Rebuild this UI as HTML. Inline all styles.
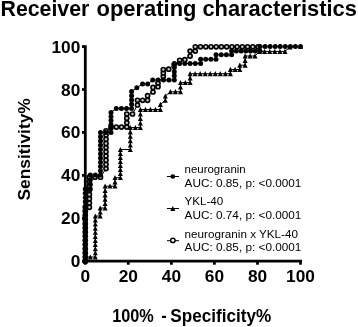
<!DOCTYPE html>
<html><head><meta charset="utf-8"><style>
html,body{margin:0;padding:0;background:#fff;}
svg{display:block;will-change:transform;}
text{font-family:"Liberation Sans",sans-serif;}
</style></head><body>
<svg width="358" height="327" viewBox="0 0 358 327">
<rect width="358" height="327" fill="#fff"/>
<g font-size="21.5" font-weight="bold"><text x="0.5" y="16.2" textLength="88.8" lengthAdjust="spacingAndGlyphs">Receiver</text>
<text x="96.5" y="16.2" textLength="100.0" lengthAdjust="spacingAndGlyphs">operating</text>
<text x="202.4" y="16.2" textLength="154.5" lengthAdjust="spacingAndGlyphs">characteristics</text></g>
<text transform="translate(30.0,200.5) rotate(-90)" font-size="17" font-weight="bold" textLength="102.3" lengthAdjust="spacingAndGlyphs">Sensitivity%</text>
<g font-size="17.5" font-weight="bold"><text x="112.2" y="321.8" textLength="41.6" lengthAdjust="spacingAndGlyphs">100%</text>
<text x="161.2" y="321.8" textLength="5.5" lengthAdjust="spacingAndGlyphs">-</text>
<text x="170.3" y="321.8" textLength="101" lengthAdjust="spacingAndGlyphs">Specificity%</text></g>
<g font-size="17.3" font-weight="bold"><text x="80.3" y="267.2" text-anchor="end">0</text><text x="80.3" y="224.3" text-anchor="end">20</text><text x="80.3" y="181.4" text-anchor="end">40</text><text x="80.3" y="138.4" text-anchor="end">60</text><text x="80.3" y="95.5" text-anchor="end">80</text><text x="80.3" y="52.6" text-anchor="end">100</text><text x="85.3" y="282" text-anchor="middle">0</text><text x="128.3" y="282" text-anchor="middle">20</text><text x="171.4" y="282" text-anchor="middle">40</text><text x="214.4" y="282" text-anchor="middle">60</text><text x="257.5" y="282" text-anchor="middle">80</text><text x="300.5" y="282" text-anchor="middle">100</text></g>

<path d="M85.3,45.2V262.4M83.9,261.2H302" stroke="#000" stroke-width="2.8" fill="none"/>

<path d="M82,261.2H85" stroke="#000" stroke-width="2.8"/><path d="M85.3,261H85.3V264.7" stroke="#000" stroke-width="2.8"/><path d="M82,218.3H85" stroke="#000" stroke-width="2.8"/><path d="M128.3,261H128.3V264.7" stroke="#000" stroke-width="2.8"/><path d="M82,175.4H85" stroke="#000" stroke-width="2.8"/><path d="M171.4,261H171.4V264.7" stroke="#000" stroke-width="2.8"/><path d="M82,132.4H85" stroke="#000" stroke-width="2.8"/><path d="M214.4,261H214.4V264.7" stroke="#000" stroke-width="2.8"/><path d="M82,89.5H85" stroke="#000" stroke-width="2.8"/><path d="M257.5,261H257.5V264.7" stroke="#000" stroke-width="2.8"/><path d="M82,46.6H85" stroke="#000" stroke-width="2.8"/><path d="M300.5,261H300.5V264.7" stroke="#000" stroke-width="2.8"/>
<polyline points="85.3,261.2 85.3,189.0 90.3,189.0 90.3,175.0 100.5,175.0 100.5,132.6 111.0,132.6 111.0,112.4 116.3,108.5 131.6,108.5 131.6,91.5 136.8,87.7 142.6,84.0 147.7,84.0 152.7,80.0 174.3,80.0 174.3,63.4 200.6,63.4 200.6,59.3 216.0,59.3 216.0,54.8 231.6,54.8 231.6,51.0 260.0,51.0 260.0,46.6 300.5,46.6" fill="none" stroke="#000" stroke-width="1"/><polyline points="85.3,261.2 85.3,257.0 95.3,257.0 95.3,216.0 100.2,216.0 100.2,208.0 105.1,208.0 105.1,186.2 115.0,186.2 115.0,177.7 120.4,177.7 120.4,149.5 130.3,149.5 130.3,127.6 140.4,127.6 140.4,109.5 160.4,109.5 160.4,104.5 165.3,100.3 165.3,96.1 170.4,91.8 180.5,91.8 180.5,82.6 190.1,82.6 190.1,73.7 230.4,73.7 230.4,69.5 239.8,69.5 239.8,65.2 245.1,65.2 245.1,56.0 255.0,56.0 259.5,51.4 285.0,51.4 290.0,47.0 300.5,46.6" fill="none" stroke="#000" stroke-width="1"/><polyline points="85.3,261.2 85.3,207.3 89.4,207.3 89.4,177.2 100.5,177.2 106.0,168.6 106.0,130.8 111.0,127.0 126.8,127.0 126.8,114.0 132.5,114.0 137.5,105.0 137.5,100.3 147.6,100.3 147.6,95.7 153.0,92.0 153.0,87.4 158.0,86.7 158.0,83.0 163.3,76.3 163.3,69.6 168.7,69.2 174.2,64.5 179.7,60.3 184.8,59.7 190.1,56.0 190.1,51.1 195.3,51.1 195.3,46.8 258.0,46.8" fill="none" stroke="#000" stroke-width="1"/>
<circle cx="85.3" cy="261.2" r="2.05" fill="#c8c8c8" stroke="#000" stroke-width="1.65"/><circle cx="85.3" cy="257.1" r="2.05" fill="#c8c8c8" stroke="#000" stroke-width="1.65"/><circle cx="85.3" cy="252.9" r="2.05" fill="#c8c8c8" stroke="#000" stroke-width="1.65"/><circle cx="85.3" cy="248.8" r="2.05" fill="#c8c8c8" stroke="#000" stroke-width="1.65"/><circle cx="85.3" cy="244.6" r="2.05" fill="#c8c8c8" stroke="#000" stroke-width="1.65"/><circle cx="85.3" cy="240.5" r="2.05" fill="#c8c8c8" stroke="#000" stroke-width="1.65"/><circle cx="85.3" cy="236.3" r="2.05" fill="#c8c8c8" stroke="#000" stroke-width="1.65"/><circle cx="85.3" cy="232.2" r="2.05" fill="#c8c8c8" stroke="#000" stroke-width="1.65"/><circle cx="85.3" cy="228.0" r="2.05" fill="#c8c8c8" stroke="#000" stroke-width="1.65"/><circle cx="85.3" cy="223.9" r="2.05" fill="#c8c8c8" stroke="#000" stroke-width="1.65"/><circle cx="85.3" cy="219.7" r="2.05" fill="#c8c8c8" stroke="#000" stroke-width="1.65"/><circle cx="85.3" cy="215.6" r="2.05" fill="#c8c8c8" stroke="#000" stroke-width="1.65"/><circle cx="85.3" cy="211.4" r="2.05" fill="#c8c8c8" stroke="#000" stroke-width="1.65"/><circle cx="85.3" cy="207.3" r="2.05" fill="#c8c8c8" stroke="#000" stroke-width="1.65"/><circle cx="89.4" cy="207.3" r="2.05" fill="#c8c8c8" stroke="#000" stroke-width="1.65"/><circle cx="89.4" cy="203.0" r="2.05" fill="#c8c8c8" stroke="#000" stroke-width="1.65"/><circle cx="89.4" cy="198.7" r="2.05" fill="#c8c8c8" stroke="#000" stroke-width="1.65"/><circle cx="89.4" cy="194.4" r="2.05" fill="#c8c8c8" stroke="#000" stroke-width="1.65"/><circle cx="89.4" cy="190.1" r="2.05" fill="#c8c8c8" stroke="#000" stroke-width="1.65"/><circle cx="89.4" cy="185.8" r="2.05" fill="#c8c8c8" stroke="#000" stroke-width="1.65"/><circle cx="89.4" cy="181.5" r="2.05" fill="#c8c8c8" stroke="#000" stroke-width="1.65"/><circle cx="89.4" cy="177.2" r="2.05" fill="#c8c8c8" stroke="#000" stroke-width="1.65"/><circle cx="95.0" cy="177.2" r="2.05" fill="#c8c8c8" stroke="#000" stroke-width="1.65"/><circle cx="100.5" cy="177.2" r="2.05" fill="#c8c8c8" stroke="#000" stroke-width="1.65"/><circle cx="106.0" cy="168.6" r="2.05" fill="#c8c8c8" stroke="#000" stroke-width="1.65"/><circle cx="106.0" cy="164.4" r="2.05" fill="#c8c8c8" stroke="#000" stroke-width="1.65"/><circle cx="106.0" cy="160.2" r="2.05" fill="#c8c8c8" stroke="#000" stroke-width="1.65"/><circle cx="106.0" cy="156.0" r="2.05" fill="#c8c8c8" stroke="#000" stroke-width="1.65"/><circle cx="106.0" cy="151.8" r="2.05" fill="#c8c8c8" stroke="#000" stroke-width="1.65"/><circle cx="106.0" cy="147.6" r="2.05" fill="#c8c8c8" stroke="#000" stroke-width="1.65"/><circle cx="106.0" cy="143.4" r="2.05" fill="#c8c8c8" stroke="#000" stroke-width="1.65"/><circle cx="106.0" cy="139.2" r="2.05" fill="#c8c8c8" stroke="#000" stroke-width="1.65"/><circle cx="106.0" cy="135.0" r="2.05" fill="#c8c8c8" stroke="#000" stroke-width="1.65"/><circle cx="106.0" cy="130.8" r="2.05" fill="#c8c8c8" stroke="#000" stroke-width="1.65"/><circle cx="111.0" cy="127.0" r="2.05" fill="#c8c8c8" stroke="#000" stroke-width="1.65"/><circle cx="116.3" cy="127.0" r="2.05" fill="#c8c8c8" stroke="#000" stroke-width="1.65"/><circle cx="121.5" cy="127.0" r="2.05" fill="#c8c8c8" stroke="#000" stroke-width="1.65"/><circle cx="126.8" cy="127.0" r="2.05" fill="#c8c8c8" stroke="#000" stroke-width="1.65"/><circle cx="126.8" cy="122.7" r="2.05" fill="#c8c8c8" stroke="#000" stroke-width="1.65"/><circle cx="126.8" cy="118.3" r="2.05" fill="#c8c8c8" stroke="#000" stroke-width="1.65"/><circle cx="126.8" cy="114.0" r="2.05" fill="#c8c8c8" stroke="#000" stroke-width="1.65"/><circle cx="132.5" cy="114.0" r="2.05" fill="#c8c8c8" stroke="#000" stroke-width="1.65"/><circle cx="137.5" cy="105.0" r="2.05" fill="#c8c8c8" stroke="#000" stroke-width="1.65"/><circle cx="137.5" cy="100.3" r="2.05" fill="#c8c8c8" stroke="#000" stroke-width="1.65"/><circle cx="142.6" cy="100.3" r="2.05" fill="#c8c8c8" stroke="#000" stroke-width="1.65"/><circle cx="147.6" cy="100.3" r="2.05" fill="#c8c8c8" stroke="#000" stroke-width="1.65"/><circle cx="147.6" cy="95.7" r="2.05" fill="#c8c8c8" stroke="#000" stroke-width="1.65"/><circle cx="153.0" cy="92.0" r="2.05" fill="#c8c8c8" stroke="#000" stroke-width="1.65"/><circle cx="153.0" cy="87.4" r="2.05" fill="#c8c8c8" stroke="#000" stroke-width="1.65"/><circle cx="158.0" cy="86.7" r="2.05" fill="#c8c8c8" stroke="#000" stroke-width="1.65"/><circle cx="158.0" cy="83.0" r="2.05" fill="#c8c8c8" stroke="#000" stroke-width="1.65"/><circle cx="163.3" cy="76.3" r="2.05" fill="#c8c8c8" stroke="#000" stroke-width="1.65"/><circle cx="163.3" cy="72.9" r="2.05" fill="#c8c8c8" stroke="#000" stroke-width="1.65"/><circle cx="163.3" cy="69.6" r="2.05" fill="#c8c8c8" stroke="#000" stroke-width="1.65"/><circle cx="168.7" cy="69.2" r="2.05" fill="#c8c8c8" stroke="#000" stroke-width="1.65"/><circle cx="174.2" cy="64.5" r="2.05" fill="#c8c8c8" stroke="#000" stroke-width="1.65"/><circle cx="179.7" cy="60.3" r="2.05" fill="#c8c8c8" stroke="#000" stroke-width="1.65"/><circle cx="184.8" cy="59.7" r="2.05" fill="#c8c8c8" stroke="#000" stroke-width="1.65"/><circle cx="190.1" cy="56.0" r="2.05" fill="#c8c8c8" stroke="#000" stroke-width="1.65"/><circle cx="190.1" cy="51.1" r="2.05" fill="#c8c8c8" stroke="#000" stroke-width="1.65"/><circle cx="195.3" cy="51.1" r="2.05" fill="#c8c8c8" stroke="#000" stroke-width="1.65"/><circle cx="195.3" cy="46.8" r="2.05" fill="#c8c8c8" stroke="#000" stroke-width="1.65"/><circle cx="200.5" cy="46.8" r="2.05" fill="#c8c8c8" stroke="#000" stroke-width="1.65"/><circle cx="205.8" cy="46.8" r="2.05" fill="#c8c8c8" stroke="#000" stroke-width="1.65"/><circle cx="211.0" cy="46.8" r="2.05" fill="#c8c8c8" stroke="#000" stroke-width="1.65"/><circle cx="216.2" cy="46.8" r="2.05" fill="#c8c8c8" stroke="#000" stroke-width="1.65"/><circle cx="221.4" cy="46.8" r="2.05" fill="#c8c8c8" stroke="#000" stroke-width="1.65"/><circle cx="226.7" cy="46.8" r="2.05" fill="#c8c8c8" stroke="#000" stroke-width="1.65"/><circle cx="231.9" cy="46.8" r="2.05" fill="#c8c8c8" stroke="#000" stroke-width="1.65"/><circle cx="237.1" cy="46.8" r="2.05" fill="#c8c8c8" stroke="#000" stroke-width="1.65"/><circle cx="242.3" cy="46.8" r="2.05" fill="#c8c8c8" stroke="#000" stroke-width="1.65"/><circle cx="247.6" cy="46.8" r="2.05" fill="#c8c8c8" stroke="#000" stroke-width="1.65"/><circle cx="252.8" cy="46.8" r="2.05" fill="#c8c8c8" stroke="#000" stroke-width="1.65"/><circle cx="258.0" cy="46.8" r="2.05" fill="#c8c8c8" stroke="#000" stroke-width="1.65"/><path d="M85.3,258.6L87.8,263.6L82.8,263.6Z"/><path d="M85.3,254.4L87.8,259.4L82.8,259.4Z"/><path d="M90.3,254.4L92.8,259.4L87.8,259.4Z"/><path d="M95.3,254.4L97.8,259.4L92.8,259.4Z"/><path d="M95.3,250.3L97.8,255.3L92.8,255.3Z"/><path d="M95.3,246.2L97.8,251.2L92.8,251.2Z"/><path d="M95.3,242.1L97.8,247.1L92.8,247.1Z"/><path d="M95.3,238.0L97.8,243.0L92.8,243.0Z"/><path d="M95.3,233.9L97.8,238.9L92.8,238.9Z"/><path d="M95.3,229.8L97.8,234.8L92.8,234.8Z"/><path d="M95.3,225.7L97.8,230.8L92.8,230.8Z"/><path d="M95.3,221.6L97.8,226.6L92.8,226.6Z"/><path d="M95.3,217.5L97.8,222.5L92.8,222.5Z"/><path d="M95.3,213.4L97.8,218.4L92.8,218.4Z"/><path d="M100.2,213.4L102.7,218.4L97.7,218.4Z"/><path d="M100.2,209.4L102.7,214.4L97.7,214.4Z"/><path d="M100.2,205.4L102.7,210.4L97.7,210.4Z"/><path d="M105.1,205.4L107.6,210.4L102.6,210.4Z"/><path d="M105.1,201.0L107.6,206.1L102.6,206.1Z"/><path d="M105.1,196.6L107.6,201.7L102.6,201.7Z"/><path d="M105.1,192.3L107.6,197.4L102.6,197.4Z"/><path d="M105.1,187.9L107.6,193.0L102.6,193.0Z"/><path d="M105.1,183.6L107.6,188.6L102.6,188.6Z"/><path d="M110.0,183.6L112.5,188.6L107.5,188.6Z"/><path d="M115.0,183.6L117.5,188.6L112.5,188.6Z"/><path d="M115.0,179.3L117.5,184.4L112.5,184.4Z"/><path d="M115.0,175.1L117.5,180.1L112.5,180.1Z"/><path d="M120.4,175.1L122.9,180.1L117.9,180.1Z"/><path d="M120.4,171.0L122.9,176.1L117.9,176.1Z"/><path d="M120.4,167.0L122.9,172.1L117.9,172.1Z"/><path d="M120.4,163.0L122.9,168.1L117.9,168.1Z"/><path d="M120.4,158.9L122.9,164.0L117.9,164.0Z"/><path d="M120.4,154.9L122.9,160.0L117.9,160.0Z"/><path d="M120.4,150.9L122.9,156.0L117.9,156.0Z"/><path d="M120.4,146.9L122.9,151.9L117.9,151.9Z"/><path d="M130.3,146.9L132.8,152.0L127.8,152.0Z"/><path d="M130.3,142.5L132.8,147.6L127.8,147.6Z"/><path d="M130.3,138.1L132.8,143.2L127.8,143.2Z"/><path d="M130.3,133.7L132.8,138.8L127.8,138.8Z"/><path d="M130.3,129.3L132.8,134.4L127.8,134.4Z"/><path d="M130.3,124.9L132.8,130.0L127.8,130.0Z"/><path d="M135.4,124.9L137.9,130.0L132.9,130.0Z"/><path d="M140.4,124.9L142.9,130.0L137.9,130.0Z"/><path d="M140.4,120.4L142.9,125.5L137.9,125.5Z"/><path d="M140.4,115.9L142.9,121.0L137.9,121.0Z"/><path d="M140.4,111.4L142.9,116.5L137.9,116.5Z"/><path d="M140.4,106.8L142.9,112.0L137.9,112.0Z"/><path d="M145.4,106.8L147.9,112.0L142.9,112.0Z"/><path d="M150.4,106.8L152.9,112.0L147.9,112.0Z"/><path d="M155.4,106.8L157.9,112.0L152.9,112.0Z"/><path d="M160.4,106.8L162.9,112.0L157.9,112.0Z"/><path d="M160.4,101.8L162.9,107.0L157.9,107.0Z"/><path d="M165.3,97.6L167.8,102.8L162.8,102.8Z"/><path d="M165.3,93.4L167.8,98.5L162.8,98.5Z"/><path d="M170.4,89.1L172.9,94.2L167.9,94.2Z"/><path d="M175.4,89.1L177.9,94.2L172.9,94.2Z"/><path d="M180.5,89.1L183.0,94.2L178.0,94.2Z"/><path d="M180.5,84.5L183.0,89.6L178.0,89.6Z"/><path d="M180.5,79.9L183.0,85.0L178.0,85.0Z"/><path d="M185.3,79.9L187.8,85.0L182.8,85.0Z"/><path d="M190.1,79.9L192.6,85.0L187.6,85.0Z"/><path d="M190.1,75.5L192.6,80.6L187.6,80.6Z"/><path d="M190.1,71.0L192.6,76.2L187.6,76.2Z"/><path d="M195.1,71.0L197.6,76.2L192.6,76.2Z"/><path d="M200.2,71.0L202.7,76.2L197.7,76.2Z"/><path d="M205.2,71.0L207.7,76.2L202.7,76.2Z"/><path d="M210.2,71.0L212.8,76.2L207.8,76.2Z"/><path d="M215.3,71.0L217.8,76.2L212.8,76.2Z"/><path d="M220.3,71.0L222.8,76.2L217.8,76.2Z"/><path d="M225.4,71.0L227.9,76.2L222.9,76.2Z"/><path d="M230.4,71.0L232.9,76.2L227.9,76.2Z"/><path d="M230.4,66.8L232.9,72.0L227.9,72.0Z"/><path d="M235.1,66.8L237.6,72.0L232.6,72.0Z"/><path d="M239.8,66.8L242.3,72.0L237.3,72.0Z"/><path d="M239.8,62.5L242.3,67.7L237.3,67.7Z"/><path d="M245.1,62.5L247.6,67.7L242.6,67.7Z"/><path d="M245.1,57.9L247.6,63.1L242.6,63.1Z"/><path d="M245.1,53.3L247.6,58.5L242.6,58.5Z"/><path d="M250.1,53.3L252.6,58.5L247.6,58.5Z"/><path d="M255.0,53.3L257.5,58.5L252.5,58.5Z"/><path d="M259.5,48.7L262.0,53.9L257.0,53.9Z"/><path d="M264.6,48.7L267.1,53.9L262.1,53.9Z"/><path d="M269.7,48.7L272.2,53.9L267.2,53.9Z"/><path d="M274.8,48.7L277.3,53.9L272.3,53.9Z"/><path d="M279.9,48.7L282.4,53.9L277.4,53.9Z"/><path d="M285.0,48.7L287.5,53.9L282.5,53.9Z"/><path d="M290.0,44.3L292.5,49.5L287.5,49.5Z"/><path d="M300.5,43.9L303.0,49.1L298.0,49.1Z"/><circle cx="85.3" cy="261.2" r="2.5"/><circle cx="85.3" cy="257.0" r="2.5"/><circle cx="85.3" cy="252.7" r="2.5"/><circle cx="85.3" cy="248.5" r="2.5"/><circle cx="85.3" cy="244.2" r="2.5"/><circle cx="85.3" cy="240.0" r="2.5"/><circle cx="85.3" cy="235.7" r="2.5"/><circle cx="85.3" cy="231.5" r="2.5"/><circle cx="85.3" cy="227.2" r="2.5"/><circle cx="85.3" cy="223.0" r="2.5"/><circle cx="85.3" cy="218.7" r="2.5"/><circle cx="85.3" cy="214.5" r="2.5"/><circle cx="85.3" cy="210.2" r="2.5"/><circle cx="85.3" cy="206.0" r="2.5"/><circle cx="85.3" cy="201.7" r="2.5"/><circle cx="85.3" cy="197.5" r="2.5"/><circle cx="85.3" cy="193.2" r="2.5"/><circle cx="85.3" cy="189.0" r="2.5"/><circle cx="90.3" cy="189.0" r="2.5"/><circle cx="90.3" cy="184.3" r="2.5"/><circle cx="90.3" cy="179.7" r="2.5"/><circle cx="90.3" cy="175.0" r="2.5"/><circle cx="95.4" cy="175.0" r="2.5"/><circle cx="100.5" cy="175.0" r="2.5"/><circle cx="100.5" cy="170.8" r="2.5"/><circle cx="100.5" cy="166.5" r="2.5"/><circle cx="100.5" cy="162.3" r="2.5"/><circle cx="100.5" cy="158.0" r="2.5"/><circle cx="100.5" cy="153.8" r="2.5"/><circle cx="100.5" cy="149.6" r="2.5"/><circle cx="100.5" cy="145.3" r="2.5"/><circle cx="100.5" cy="141.1" r="2.5"/><circle cx="100.5" cy="136.8" r="2.5"/><circle cx="100.5" cy="132.6" r="2.5"/><circle cx="105.8" cy="132.6" r="2.5"/><circle cx="111.0" cy="132.6" r="2.5"/><circle cx="111.0" cy="128.6" r="2.5"/><circle cx="111.0" cy="124.5" r="2.5"/><circle cx="111.0" cy="120.5" r="2.5"/><circle cx="111.0" cy="116.4" r="2.5"/><circle cx="111.0" cy="112.4" r="2.5"/><circle cx="116.3" cy="108.5" r="2.5"/><circle cx="121.4" cy="108.5" r="2.5"/><circle cx="126.5" cy="108.5" r="2.5"/><circle cx="131.6" cy="108.5" r="2.5"/><circle cx="131.6" cy="104.2" r="2.5"/><circle cx="131.6" cy="100.0" r="2.5"/><circle cx="131.6" cy="95.8" r="2.5"/><circle cx="131.6" cy="91.5" r="2.5"/><circle cx="136.8" cy="87.7" r="2.5"/><circle cx="142.6" cy="84.0" r="2.5"/><circle cx="147.7" cy="84.0" r="2.5"/><circle cx="152.7" cy="80.0" r="2.5"/><circle cx="158.1" cy="80.0" r="2.5"/><circle cx="163.5" cy="80.0" r="2.5"/><circle cx="168.9" cy="80.0" r="2.5"/><circle cx="174.3" cy="80.0" r="2.5"/><circle cx="174.3" cy="75.8" r="2.5"/><circle cx="174.3" cy="71.7" r="2.5"/><circle cx="174.3" cy="67.5" r="2.5"/><circle cx="174.3" cy="63.4" r="2.5"/><circle cx="179.6" cy="63.4" r="2.5"/><circle cx="184.8" cy="63.4" r="2.5"/><circle cx="190.1" cy="63.4" r="2.5"/><circle cx="195.3" cy="63.4" r="2.5"/><circle cx="200.6" cy="63.4" r="2.5"/><circle cx="200.6" cy="59.3" r="2.5"/><circle cx="205.7" cy="59.3" r="2.5"/><circle cx="210.9" cy="59.3" r="2.5"/><circle cx="216.0" cy="59.3" r="2.5"/><circle cx="216.0" cy="54.8" r="2.5"/><circle cx="221.2" cy="54.8" r="2.5"/><circle cx="226.4" cy="54.8" r="2.5"/><circle cx="231.6" cy="54.8" r="2.5"/><circle cx="231.6" cy="51.0" r="2.5"/><circle cx="236.3" cy="51.0" r="2.5"/><circle cx="241.1" cy="51.0" r="2.5"/><circle cx="245.8" cy="51.0" r="2.5"/><circle cx="250.5" cy="51.0" r="2.5"/><circle cx="255.3" cy="51.0" r="2.5"/><circle cx="260.0" cy="51.0" r="2.5"/><circle cx="260.0" cy="46.6" r="2.5"/><circle cx="265.1" cy="46.6" r="2.5"/><circle cx="270.1" cy="46.6" r="2.5"/><circle cx="275.2" cy="46.6" r="2.5"/><circle cx="280.2" cy="46.6" r="2.5"/><circle cx="285.3" cy="46.6" r="2.5"/><circle cx="290.4" cy="46.6" r="2.5"/><circle cx="295.4" cy="46.6" r="2.5"/><circle cx="300.5" cy="46.6" r="2.5"/>

<g stroke="#000" stroke-width="1"><path d="M167,176.5H179M167,208.5H179M167,240.7H179"/></g>
<circle cx="172.8" cy="176.5" r="2.35"/><path d="M172.8,205.9L175.3,210.9L170.3,210.9Z"/><circle cx="172.85" cy="240.4" r="2.2" fill="#fff" stroke="#000" stroke-width="1.45"/>
<g font-size="11.6" font-family="Liberation Sans, sans-serif">
<text x="184.6" y="173.4" textLength="61.1" lengthAdjust="spacingAndGlyphs">neurogranin</text>
<text x="184.6" y="186.8" textLength="116.8" lengthAdjust="spacingAndGlyphs">AUC: 0.85, p: &lt;0.0001</text>
<text x="184.6" y="205.2">YKL-40</text>
<text x="184.6" y="219" textLength="116.8" lengthAdjust="spacingAndGlyphs">AUC: 0.74, p: &lt;0.0001</text>
<text x="184.6" y="237.6" textLength="113.4" lengthAdjust="spacingAndGlyphs">neurogranin x YKL-40</text>
<text x="184.6" y="250.8" textLength="116.8" lengthAdjust="spacingAndGlyphs">AUC: 0.85, p: &lt;0.0001</text>
</g>

</svg>
</body></html>
